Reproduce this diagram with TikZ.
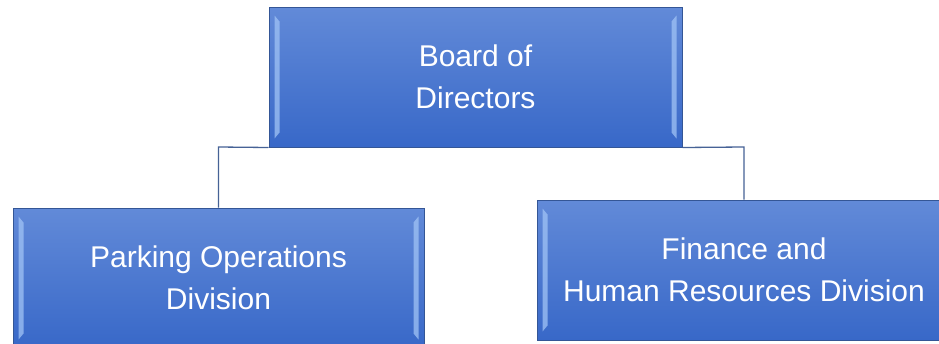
\documentclass[tikz,border=0pt]{standalone}
\usepackage{fontspec}
\setmainfont{Liberation Sans}
\usetikzlibrary{calc}
\definecolor{boxtop}{RGB}{98,138,216}
\definecolor{boxbot}{RGB}{56,104,200}
\definecolor{boxline}{RGB}{52,86,150}
\definecolor{conncol}{RGB}{70,98,150}
\definecolor{bevelc}{RGB}{160,195,245}
\tikzset{
  orgbox/.style={rectangle, draw=boxline, line width=1pt, top color=boxtop, bottom color=boxbot,
    text=white, align=center, font=\fontsize{30}{42}\selectfont, inner sep=0pt},
  conn/.style={draw=conncol, line width=1.3pt},
  bevel/.style={fill=bevelc, fill opacity=0.75}
}
\begin{document}
\begin{tikzpicture}[x=1pt,y=-1pt]
\clip (0,0) rectangle (939,343);
\fill[white] (0,0) rectangle (939,343);
\coordinate (hl) at (218.5,147);
\coordinate (hr) at (744,147);
\node[orgbox, minimum width=413, minimum height=140] (top) at (475.5,77) {Board of\\Directors};
\node[orgbox, minimum width=411, minimum height=140] (left) at (218.5,278) {Parking Operations\\Division};
\node[orgbox, minimum width=414, minimum height=140] (right) at (744,270) {Finance and\\Human Resources Division};
\foreach \n in {top,left,right}{
  \fill[bevel] ($(\n.north west)+(6,9)$) -- ($(\n.north west)+(11,15)$) -- ($(\n.south west)+(11,-15)$) -- ($(\n.south west)+(6,-9)$) -- cycle;
  \fill[bevel] ($(\n.north east)+(-6,9)$) -- ($(\n.north east)+(-11,15)$) -- ($(\n.south east)+(-11,-15)$) -- ($(\n.south east)+(-6,-9)$) -- cycle;
}
\draw[conn] (left.north) -- (hl) -- (top.south west);
\draw[conn] (top.south east) -- (hr) -- (right.north);
\end{tikzpicture}
\end{document}
